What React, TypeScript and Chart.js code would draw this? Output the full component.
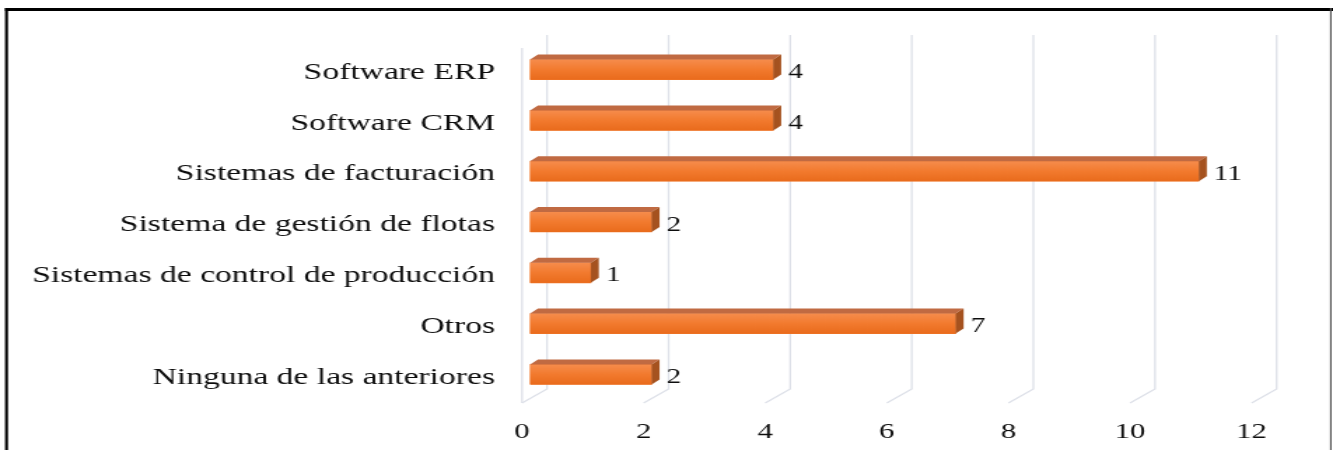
import React, { useEffect, useRef } from 'react';
import { Chart, registerables } from 'chart.js';

Chart.register(...registerables);

// ---- data ----
const categories = [
  'Software ERP',
  'Software CRM',
  'Sistemas de facturación',
  'Sistema de gestión de flotas',
  'Sistemas de control de producción',
  'Otros',
  'Ninguna de las anteriores',
];
const values = [4, 4, 11, 2, 1, 7, 2];
const xTicks = [0, 2, 4, 6, 8, 10, 12];

// ---- geometry (internal canvas px; canvas is stretched horizontally) ----
const W = 952;
const H = 450;
const S = 1333 / W;
const X0 = 530 / S; // front plane of value 0
const UNIT = 60.8 / S;
const X_MAX = 12;
const TOP = 44.2;
const BOTTOM = 399.8;
const DX = 8 / S; // 3D depth offset
const DY = -5;
const BACK_OFF = 17 / S;
const FRONT_OFF = -8 / S;
const WALL_TOP = 35;
const FLOOR_BACK = 389;
const FLOOR_FRONT = 403;
const SERIF = "'Times New Roman', 'Liberation Serif', serif";
const TEXT = '#0d0d0d';

const decorPlugin = {
  id: 'decor',
  beforeDatasetsDraw(chart: any) {
    const ctx = chart.ctx;
    const xs = chart.scales.x;
    ctx.save();
    ctx.strokeStyle = '#dde0e8';
    ctx.lineWidth = 1.3;
    // left front edge
    const f0 = xs.getPixelForValue(0) + FRONT_OFF;
    ctx.beginPath();
    ctx.moveTo(f0, 48);
    ctx.lineTo(f0, FLOOR_FRONT);
    ctx.stroke();
    xTicks.forEach((v) => {
      const p = xs.getPixelForValue(v);
      const bx = p + BACK_OFF;
      const fx = p + FRONT_OFF;
      ctx.beginPath();
      ctx.moveTo(bx, WALL_TOP);
      ctx.lineTo(bx, FLOOR_BACK);
      ctx.lineTo(fx, FLOOR_FRONT);
      ctx.stroke();
    });
    // tick labels
    ctx.fillStyle = TEXT;
    ctx.font = `22px ${SERIF}`;
    ctx.textAlign = 'center';
    ctx.textBaseline = 'middle';
    xTicks.forEach((v) => {
      const p = xs.getPixelForValue(v) + FRONT_OFF;
      ctx.fillText(String(v), p, 432);
    });
    ctx.restore();
  },
  afterDatasetsDraw(chart: any) {
    const ctx = chart.ctx;
    const meta = chart.getDatasetMeta(0);
    ctx.save();
    meta.data.forEach((bar: any, i: number) => {
      const { x, y, base, height } = bar.getProps(['x', 'y', 'base', 'height'], true);
      const top = y - height / 2;
      const bottom = y + height / 2;
      // front face gradient
      const g = ctx.createLinearGradient(0, top, 0, bottom);
      g.addColorStop(0, '#f68c4c');
      g.addColorStop(0.5, '#f27a2e');
      g.addColorStop(1, '#e96b1c');
      ctx.fillStyle = g;
      ctx.fillRect(base, top, x - base, bottom - top);
      // top face
      ctx.fillStyle = '#c06a42';
      ctx.beginPath();
      ctx.moveTo(base, top);
      ctx.lineTo(base + DX, top + DY);
      ctx.lineTo(x + DX, top + DY);
      ctx.lineTo(x, top);
      ctx.closePath();
      ctx.fill();
      // side face
      ctx.fillStyle = '#a5521f';
      ctx.beginPath();
      ctx.moveTo(x, top);
      ctx.lineTo(x + DX, top + DY);
      ctx.lineTo(x + DX, bottom + DY);
      ctx.lineTo(x, bottom);
      ctx.closePath();
      ctx.fill();
      // value label
      ctx.fillStyle = TEXT;
      ctx.font = `21px ${SERIF}`;
      ctx.textAlign = 'left';
      ctx.textBaseline = 'middle';
      ctx.fillText(String(values[i]), x + DX + 5, y + 3);
    });
    // border
    ctx.fillStyle = '#000';
    ctx.fillRect(5 / S, 8, W, 3);
    ctx.fillRect(5 / S, 8, 3 / S, H);
    ctx.fillStyle = '#555';
    ctx.fillRect(1330 / S, 8, 1.6 / S, H);
    ctx.restore();
  },
};

export default function App() {
  const ref = useRef<HTMLCanvasElement>(null);
  useEffect(() => {
    document.body.style.margin = '0';
    const canvas = ref.current!;
    const chart = new Chart(canvas, {
      type: 'bar',
      data: {
        labels: categories,
        datasets: [
          {
            data: values,
            backgroundColor: '#f27a2e',
            borderWidth: 0,
            barThickness: 20,
          },
        ],
      },
      options: {
        indexAxis: 'y',
        responsive: false,
        animation: false,
        events: [],
        layout: {
          padding: { left: 0, top: TOP, right: W - (X0 + X_MAX * UNIT), bottom: H - BOTTOM },
        },
        plugins: {
          legend: { display: false },
          tooltip: { enabled: false },
          title: { display: false },
        },
        scales: {
          x: {
            display: false,
            min: 0,
            max: X_MAX,
          },
          y: {
            grid: { display: false, drawTicks: false },
            border: { display: false },
            ticks: {
              color: TEXT,
              font: { family: SERIF, size: 24 },
              padding: 25,
              labelOffset: 3,
            },
            afterFit(scale: any) {
              scale.width = X0;
            },
          },
        },
      },
      plugins: [decorPlugin],
    });
    return () => chart.destroy();
  }, []);
  return (
    <canvas
      ref={ref}
      width={W}
      height={H}
      style={{ width: '1333px', height: '450px', display: 'block' }}
    />
  );
}
